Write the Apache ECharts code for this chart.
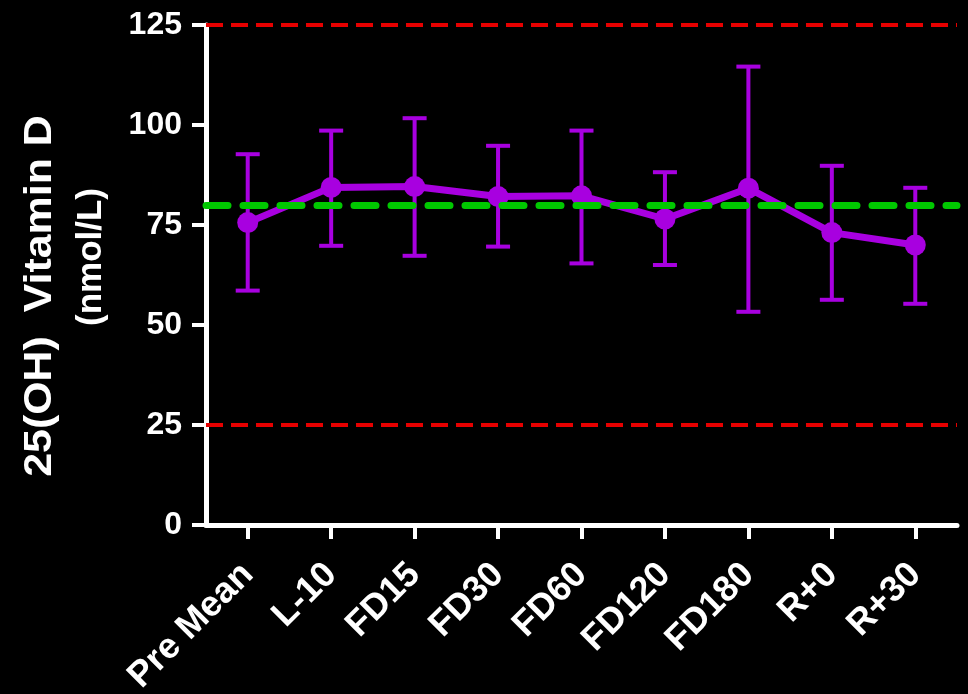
<!DOCTYPE html>
<html>
<head>
<meta charset="utf-8">
<script src="https://cdn.jsdelivr.net/npm/echarts@6/dist/echarts.min.js"></script>
<style>
html,body{margin:0;padding:0;background:#000;}
#chart{width:968px;height:694px;}
</style>
</head>
<body>
<div id="chart"></div>
<script>
const categories = ['Pre Mean', 'L-10', 'FD15', 'FD30', 'FD60', 'FD120', 'FD180', 'R+0', 'R+30'];
const meanValues = [75.6, 84.4, 84.6, 82.1, 82.3, 76.5, 84.2, 73.1, 70.0];
const upperValues = [92.7, 98.6, 101.7, 94.8, 98.6, 88.2, 114.6, 89.8, 84.3];
const lowerValues = [58.6, 69.8, 67.3, 69.6, 65.4, 65.0, 53.3, 56.3, 55.3];
const yTicks = [0, 25, 50, 75, 100, 125];
const redRefLines = [125, 25];
const greenRefLine = 80;
const yTitleLine1 = '25(OH)  Vitamin D';
const yTitleLine2 = '(nmol/L)';

const FONT = "'Liberation Sans', Arial, sans-serif";
const PURPLE = '#a800e0';

const errorData = categories.map((c, i) => [i, lowerValues[i], upperValues[i]]);

const chart = echarts.init(document.getElementById('chart'), null, {renderer: 'canvas'});
chart.setOption({
  backgroundColor: '#000',
  animation: false,
  grid: {left: 206, right: 11, top: 25, bottom: 169, containLabel: false, outerBoundsMode: 'none'},
  xAxis: {
    type: 'category',
    data: categories,
    boundaryGap: true,
    axisLine: {show: true, lineStyle: {color: '#fff', width: 5, cap: 'round'}},
    axisTick: {show: true, alignWithLabel: true, length: 14, lineStyle: {color: '#fff', width: 4}},
    axisLabel: {
      color: '#fff', fontFamily: FONT, fontWeight: 'bold', fontSize: 36,
      rotate: 45, margin: 44, interval: 0
    },
    splitLine: {show: false}
  },
  yAxis: {
    type: 'value',
    min: yTicks[0],
    max: yTicks[yTicks.length - 1],
    interval: 25,
    axisLine: {show: true, lineStyle: {color: '#fff', width: 5}},
    axisTick: {show: true, length: 14, lineStyle: {color: '#fff', width: 4}},
    axisLabel: {color: '#fff', fontFamily: FONT, fontWeight: 'bold', fontSize: 32, margin: 24},
    splitLine: {show: false}
  },
  graphic: [
    {
      type: 'text', x: 40, y: 296, rotation: Math.PI / 2, scaleX: 1.1,
      style: {text: yTitleLine1, fill: '#fff', font: 'bold 39px ' + FONT, align: 'center', verticalAlign: 'middle'}
    },
    {
      type: 'text', x: 91, y: 257, rotation: Math.PI / 2,
      style: {text: yTitleLine2, fill: '#fff', font: 'bold 35px ' + FONT, align: 'center', verticalAlign: 'middle'}
    }
  ],
  series: [
    {
      type: 'line',
      data: [],
      z: 1,
      markLine: {
        silent: true,
        symbol: ['none', 'none'],
        label: {show: false},
        data: [
          {yAxis: redRefLines[0], lineStyle: {color: '#e60000', width: 4, type: [17, 8]}},
          {yAxis: redRefLines[1], lineStyle: {color: '#e60000', width: 4, type: [17, 8]}},
          {yAxis: greenRefLine, lineStyle: {color: '#00c800', width: 7, type: [22, 15], cap: 'round'}}
        ]
      }
    },
    {
      type: 'custom',
      z: 3,
      data: errorData,
      renderItem: function (params, api) {
        const x = api.value(0);
        const lo = api.coord([x, api.value(1)]);
        const hi = api.coord([x, api.value(2)]);
        const hw = 12;
        const style = {stroke: PURPLE, lineWidth: 4, fill: null};
        return {
          type: 'group',
          children: [
            {type: 'line', shape: {x1: hi[0], y1: hi[1], x2: lo[0], y2: lo[1]}, style: style},
            {type: 'line', shape: {x1: hi[0] - hw, y1: hi[1], x2: hi[0] + hw, y2: hi[1]}, style: style},
            {type: 'line', shape: {x1: lo[0] - hw, y1: lo[1], x2: lo[0] + hw, y2: lo[1]}, style: style}
          ]
        };
      }
    },
    {
      type: 'line',
      z: 4,
      data: meanValues,
      symbol: 'circle',
      symbolSize: 21,
      lineStyle: {color: PURPLE, width: 7},
      itemStyle: {color: PURPLE},
      silent: true
    }
  ]
});
</script>
</body>
</html>
